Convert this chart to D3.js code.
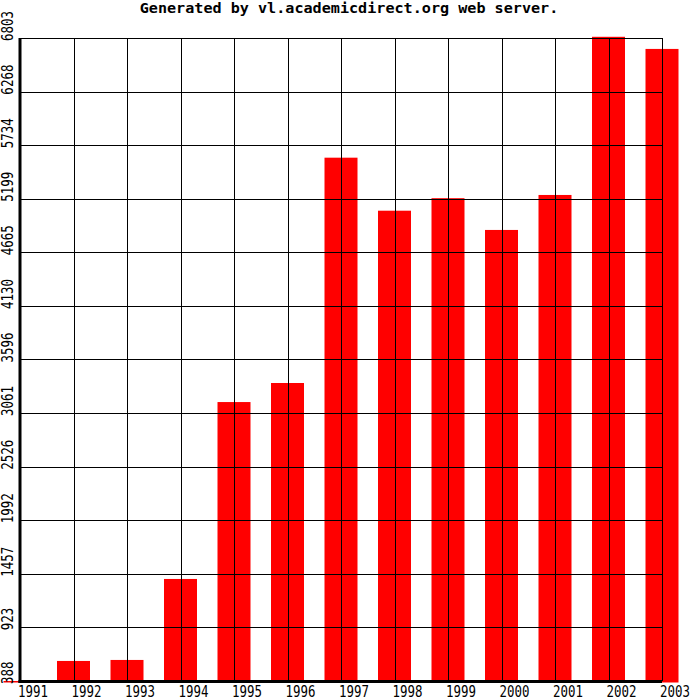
<!DOCTYPE html>
<html>
<head>
<meta charset="utf-8">
<script src="https://cdn.jsdelivr.net/npm/d3@7"></script>
<style>
  body { margin: 0; background: #fff; }
  svg { display: block; }
</style>
</head>
<body>
<svg id="chart"></svg>
<script>
var years = ["1991", "1992", "1993", "1994", "1995", "1996", "1997",
  "1998", "1999", "2000", "2001", "2002", "2003"];
var values = [388, 588, 598, 1406, 3171, 3361, 5609, 5080, 5205, 4888, 5237, 6815, 6694];
var yTicks = [388, 923, 1457, 1992, 2526, 3061, 3596, 4130, 4665, 5199, 5734, 6268, 6803];
var title = "Generated by vl.academicdirect.org web server.";

var outerWidth = 700;
var outerHeight = 700;
var margin = { top: 38, left: 20, right: 38, bottom: 19 };
var width = outerWidth - margin.left - margin.right;
var height = outerHeight - margin.top - margin.bottom;

var svg = d3.select("#chart").attr("width", outerWidth).attr("height", outerHeight);

// title
svg
  .append("text")
  .attr("transform", "translate(349,13) scale(1.12,1)")
  .style("text-anchor", "middle")
  .style("font-family", "DejaVu Sans Mono")
  .style("font-weight", "bold")
  .style("font-size", "13.5px")
  .text(title);

var cg = svg
  .append("g")
  .attr("transform", "translate(" + margin.left + "," + margin.top + ")");

var x = d3.scalePoint().domain(years).range([0, width]);
var y = d3.scaleLinear().domain([yTicks[0], yTicks[yTicks.length - 1]]).range([height, 0]);
var barW = 33;

// bars (drawn under the grid)
cg.selectAll("rect.bar")
  .data(values)
  .enter()
  .append("rect")
  .attr("class", "bar")
  .attr("x", (d, i) => x(years[i]) - barW / 2)
  .attr("y", (d) => y(d))
  .attr("width", barW)
  .attr("height", (d) => height - y(d) + 1.5)
  .attr("fill", "#ff0000");

// grid via axes
var xGrid = cg
  .append("g")
  .attr("transform", `translate(0,${height})`)
  .call(d3.axisBottom(x).tickSize(-height).tickSizeOuter(0));
var yGrid = cg
  .append("g")
  .call(d3.axisLeft(y).tickValues(yTicks).tickSize(-width).tickSizeOuter(0).tickFormat(d3.format("d")));

[xGrid, yGrid].forEach((g) => {
  g.select(".domain").remove();
  g.selectAll("line")
    .attr("stroke", "#000")
    .attr("stroke-width", 1)
    .attr("shape-rendering", "crispEdges");
  g.selectAll("text")
    .attr("fill", "#000")
    .style("font-family", "DejaVu Sans Mono");
});

xGrid.selectAll("text")
  .attr("x", null)
  .attr("y", null)
  .attr("dy", null)
  .style("font-size", "15px")
  .style("text-anchor", "start")
  .attr("transform", "translate(-2.5,15.5) scale(0.83,1)");

yGrid.selectAll("text")
  .attr("x", null)
  .attr("dy", null)
  .style("font-size", "16px")
  .style("text-anchor", "start")
  .attr("transform", "translate(-7,2.5) rotate(-90) scale(0.78,1)");

// frame
cg.append("line")
  .attr("x1", 0).attr("x2", width).attr("y1", 0.5).attr("y2", 0.5)
  .attr("stroke", "#000").attr("stroke-width", 1);
cg.append("line")
  .attr("x1", width + 0.5).attr("x2", width + 0.5).attr("y1", 0).attr("y2", height)
  .attr("stroke", "#000").attr("stroke-width", 1);
cg.append("line")
  .attr("x1", 0).attr("x2", 0).attr("y1", 0).attr("y2", height + 2)
  .attr("stroke", "#000").attr("stroke-width", 3);
cg.append("line")
  .attr("x1", -1.5).attr("x2", width).attr("y1", height + 0.5).attr("y2", height + 0.5)
  .attr("stroke", "#000").attr("stroke-width", 3);
</script>
</body>
</html>
